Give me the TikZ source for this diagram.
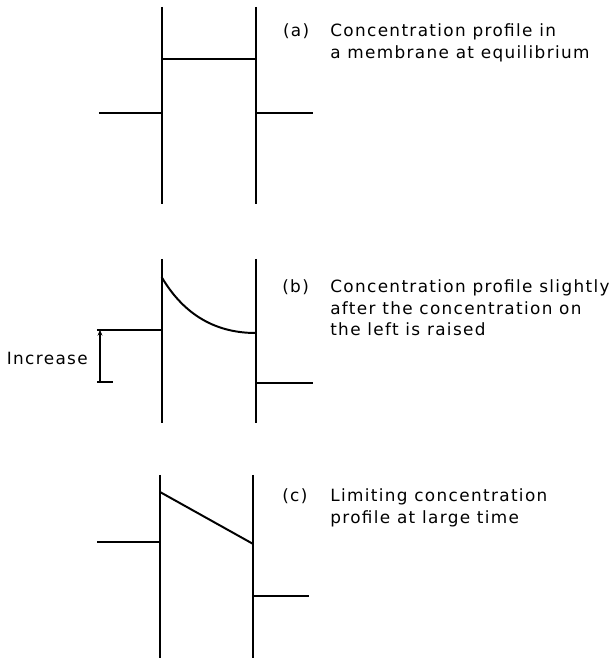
\documentclass[tikz,border=0pt]{standalone}
\usepackage{fontspec}
\setmainfont{DejaVu Sans}[LetterSpace=8]
\usetikzlibrary{arrows.meta,positioning}

\begin{document}
\begin{tikzpicture}[
    wall/.style={line width=1.4pt},
    level/.style={line width=1.4pt},
    lbl/.style={inner sep=0pt, font=\fontsize{12}{15}\selectfont}
]
\useasboundingbox (0,0) rectangle (15.375,16.45);
% (a) membrane at equilibrium
\begin{scope}[xshift=4.06cm, yshift=13.625cm]
    \draw[wall] (0,2.65) -- (0,-2.275);
    \draw[wall] (2.35,2.65) -- (2.35,-2.275);
    \draw[level] (-1.59,0) -- (0,0);
    \draw[level] (0,1.34) -- (2.35,1.34);
    \draw[level] (2.35,0) -- (3.76,0);
    \node[lbl, anchor=base west] (taga) at (3.01,1.9) {(a)};
    \node[lbl, anchor=base west] (texta) at (4.19,1.9)
        {\begin{tabular}[t]{@{}l@{}}Concentration profile in\\a membrane at equilibrium\end{tabular}};
\end{scope}
% (b) just after the left side is raised
\begin{scope}[xshift=4.04cm, yshift=8.2cm]
    \draw[wall] (0,1.775) -- (0,-2.325);
    \draw[wall] (2.35,1.775) -- (2.35,-2.325);
    \draw[level] (-1.62,0) -- (0,0);
    \draw[level] (0,1.325) .. controls (0.5,0.475) and (1.25,-0.075) .. (2.35,-0.075);
    \draw[level] (2.35,-1.325) -- (3.79,-1.325);
    \coordinate (inctop) at (-1.54,0);
    \coordinate (incbot) at (-1.54,-1.3);
    \coordinate (incmid) at (-1.54,-0.72);
    \draw[line width=0.8pt, -{Stealth[length=4pt,width=3.5pt]}] (incbot) -- (inctop);
    \draw[line width=1.2pt] (-1.61,-1.3) -- (-1.21,-1.3);
    \node[lbl, left=0.3cm of incmid] (inc) {Increase};
    \node[lbl, anchor=base west] (tagb) at (3.01,0.925) {(b)};
    \node[lbl, anchor=base west] (textb) at (4.21,0.925)
        {\begin{tabular}[t]{@{}l@{}}Concentration profile slightly\\after the concentration on\\the left is raised\end{tabular}};
\end{scope}
% (c) steady state
\begin{scope}[xshift=4.0cm, yshift=2.9cm]
    \draw[wall] (0,1.675) -- (0,-2.9);
    \draw[wall] (2.33,1.675) -- (2.33,-2.9);
    \draw[level] (-1.575,0) -- (0,0);
    \draw[level] (0,1.25) -- (2.33,-0.05);
    \draw[level] (2.33,-1.35) -- (3.725,-1.35);
    \node[lbl, anchor=base west] (tagc) at (3.05,1.0) {(c)};
    \node[lbl, anchor=base west] (textc) at (4.25,1.0)
        {\begin{tabular}[t]{@{}l@{}}Limiting concentration\\profile at large time\end{tabular}};
\end{scope}
\end{tikzpicture}
\end{document}
